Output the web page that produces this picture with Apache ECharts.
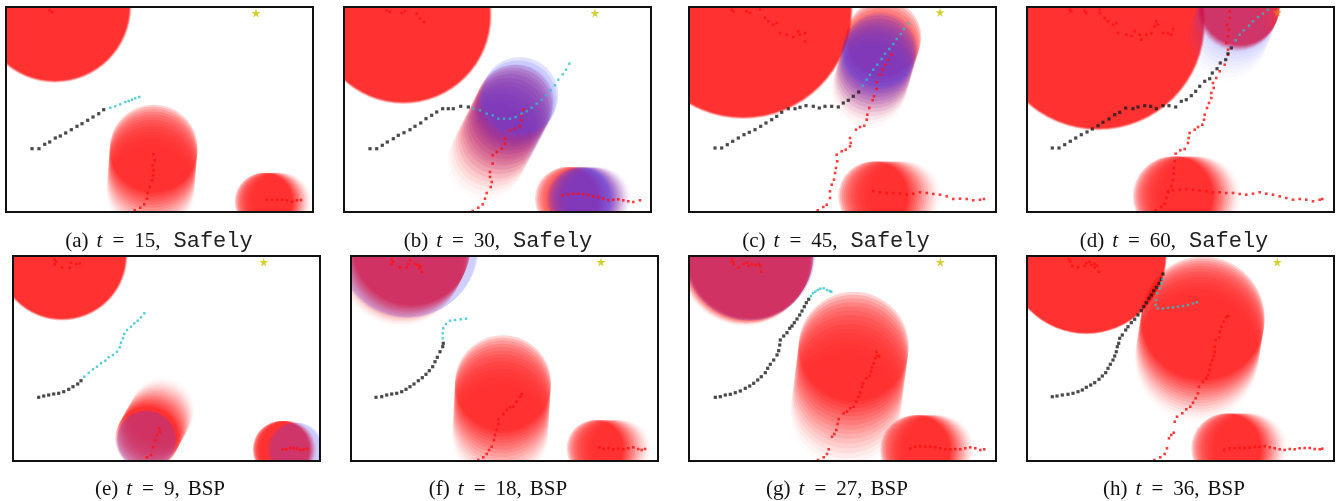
<!DOCTYPE html>
<html><head><meta charset="utf-8">
<script src="https://cdn.jsdelivr.net/npm/echarts@6.0.0/dist/echarts.min.js"></script>
<style>html,body{margin:0;padding:0;background:#fff}#c{width:1340px;height:501px}</style>
</head><body><div id="c"></div>
<script>
// ---- data (panel order a..h), units: scene coordinates, y grows downward ----
const panelLabels = ['(a)','(b)','(c)','(d)','(e)','(f)','(g)','(h)'];
const steps = [15,30,45,60,9,18,27,36];
const methods = ['Safely','Safely','Safely','Safely','BSP','BSP','BSP','BSP'];
const goals = [[250,6],[251,6],[251,5.3],[250.3,5.3],[250.7,6],[250,6],[251.3,6],[250.3,6]];
const goalReached = [false,false,false,true,false,false,false,false];

const robotPast = [
 [[26,141.7],[33,141.7],[38.7,137.3],[43.7,135],[49.3,131],[54.3,129],[59.7,126],[65.3,122.7],[71,119.3],[76,116.7],[81.7,113.3],[87,110],[92.7,106.7],[97.7,102.7]],
 [[26,141.7],[32.7,141.7],[38.3,138.3],[43.3,135],[49.3,131.7],[54.3,128.3],[60,125.7],[66,122.7],[71,119.3],[76.7,116],[82,111.7],[87.7,108.3],[92.7,105],[98.7,101.7],[104.3,101.7],[109.3,101.7],[116.7,99.3],[124.3,100]],
 [[26,141],[32.7,141],[38.3,137.7],[43.7,134.3],[49.3,131],[55,127.7],[60.3,125.3],[66,122.7],[71.7,119.3],[77,116],[82.7,112.7],[87.7,109.3],[92.7,105.3],[99.3,101.7],[106,101.7],[111,100.3],[117,98.7],[124.3,99.3],[130.3,101],[136,99.3],[142.7,99.3],[149.3,100],[154.3,96],[159.3,93.3],[164.3,89.3],[169.7,85]],
 [[25.3,141],[32,141],[37.7,137.7],[43.3,134.3],[48.7,131],[54.3,127.7],[60,125],[65.3,122],[71,118.7],[76,115.3],[82,112],[87.7,107.7],[92.7,105.3],[98.7,101],[106,101.7],[111,100],[117.7,98.7],[123.7,99.3],[129.3,101.7],[136,98.7],[142,98.7],[148.7,100],[154.3,94.3],[159.3,92.7],[164.3,88.7],[168.7,84.3],[172.7,79.3],[177.7,74.3],[182.7,71.7],[185.3,66],[190,61.7],[193.3,56],[198.7,52.7],[201,46.7],[204.3,41]],
 [[25.7,141.3],[30.7,140],[35.7,139],[40.7,138],[45.7,137.3],[50.7,135.7],[55.7,133.3],[60,130.7],[64.7,128],[68,124.7]],
 [[25,141.3],[30.7,140.7],[35.7,139],[40.7,138],[45.7,137.3],[50.7,135.7],[55,133.3],[59,130.7],[63,128],[67.3,124.7],[71.3,121.7],[75,118.3],[78.3,114.7],[81.7,110.7],[84,105.7],[86.3,101.3],[89,95.7],[91.7,90.7],[92.3,87.3]],
 [[26.3,141.3],[31.3,140.7],[36.3,139],[41.3,138.3],[46.3,136.7],[51.3,135],[56.3,132.3],[60.7,130],[64.7,127.3],[68.7,124],[72.3,120.7],[76.3,116.7],[78.7,112.3],[81.3,108.3],[84.7,104],[88,99],[89.7,94.7],[90.7,89],[91.3,84],[94.7,80],[98,76.7],[100.7,72.3],[103,70],[105.3,66.7],[108,63],[110.7,59],[113,55],[115.3,50.7],[117.3,46.7],[119.7,43.3]],
 [[25.3,140.7],[30,140],[35.3,139],[41,138.3],[46,137.3],[51,135.7],[55.3,134],[59.3,131.3],[63.7,129],[67.7,126.7],[72,123.3],[75.3,120],[78.7,116.7],[81,112.3],[83.3,108.3],[86,104],[87.7,100],[89.3,95.7],[90.3,90.7],[91.7,87.3],[92.7,82.3],[95.3,79],[98.7,74],[101,70.7],[104.3,66.7],[107.7,63.3],[111,59],[114.3,54.7],[116.7,50.7],[119.3,46.7],[122,42.3],[124.3,39],[126.7,34.7],[129.3,31.3],[132,27.3],[134.3,23.3],[136,18]]
];

const robotPlan = [
 [[104.3,100.7],[109.3,99.3],[114.3,97.3],[119.3,95],[122.7,94],[126,92.7],[129.3,91.3],[133.3,90]],
 [[129.3,101.7],[136,103.3],[142.7,106.7],[148.7,108.3],[154.3,111.7],[160,111.7],[166,111.7],[171.7,110],[177.7,106.7],[182.7,104.3],[187.7,100.7],[192.7,96.7],[197.7,92.7],[202,88.3],[206.7,83.3],[211,78.3],[214.3,72.7],[218.7,67.3],[222,62.7],[225.3,56.7]],
 [[173.7,78.7],[177.7,72.7],[181,67.7],[184.3,62.7],[188.3,57.7],[192.7,52],[196,46.7],[200.3,42],[204.3,37],[207.7,32],[211.7,27],[215,22],[219.3,16.7]],
 [[208.7,33.3],[212.7,27.7],[216.7,23.3],[222,18.7],[226,14.3],[231,10],[236,6.7],[241,2.7]],
 [[71.3,120.7],[75.7,116.7],[80,113.3],[84,110.7],[88,107.3],[92.3,104.7],[95.7,101.3],[100,99],[104,95.7],[106.7,91.3],[108,86.7],[110,82.3],[111.3,78],[114,74],[118,70.7],[121.3,67.3],[124.7,64.7],[128,61.3],[131.3,57.3]],
 [[91.7,82.3],[91.7,77.3],[92.3,72.3],[95,68],[99,64.7],[104,64],[109.7,63.3],[115,62.7]],
 [[122,40],[124,37.3],[126.3,35.7],[128.7,34],[131.3,32.7],[134.7,32.3],[138,34],[140.7,35],[142.3,35.7]],
 [[135.3,23.3],[134.3,27.3],[132.7,32.3],[130,37.3],[129.3,44],[128.7,49],[131,52.3],[136,52.7],[141,51.7],[146,51.3],[151,50.7],[156,50],[161,49],[166,47.3],[170,46.3]]
];

const pedTracks = [
 [[[43.7,3.3],[46,5]],
  [[128.7,203.3],[134.3,200.7],[138.3,197.3],[141,191.7],[141.7,186],[143.7,180],[146,173.3],[147,168.3],[147.7,163.3],[146.7,158.3],[148.7,153.3],[147.7,147.3]],
  [[261,192.7],[266,192.7],[271,192.7],[276,192.7],[281,193.3],[286,194.7],[291,193.3],[295,193]]],
 [[[42.7,3.3],[46,5],[57.7,6],[61,4.3],[72.7,6.7],[76,11.7],[80,15]],
  [[128.7,204],[134.3,200.7],[138.7,197.3],[141,191.7],[142.7,186],[146.7,180],[147.7,175],[146,170],[146,165],[148.7,156.7],[148.7,148.3],[152.7,145],[157.7,141.7],[161,136.7],[161,131.7],[166,123.3],[171,121.7],[176,119.3],[177.7,113.3],[177.7,108.3],[179.3,102.7]],
  [[218.7,188.3],[224.3,187.3],[229.3,186.7],[234.3,186.7],[239.3,187.3],[244.3,188.3],[249.3,189.3],[254.3,190],[259.3,191.7],[264.3,193.3],[269.3,192.7],[274.3,192.3],[279.3,193.3],[284.3,194.3],[289.3,195],[296,193.3]]],
 [[[42.7,2.7],[44.3,4.3],[57.7,4.3],[61,6],[71,2.7],[76,11],[79.3,14.3],[84.3,17.7],[87.7,16],[91,26],[97.7,27.7],[104.3,30],[109.3,24.3],[111,27.7],[116,26],[116,34.3]],
  [[128.7,203.3],[134.3,200],[137.7,197.7],[141,191],[141,184.3],[142.7,177.7],[145,172.7],[146,166],[147,161],[148.3,154.3],[147.7,147.7],[152.7,144.3],[156.7,142.7],[161,139.3],[161.7,136],[161,131],[167,122.7],[171,120],[175.3,118.7],[177.7,112.7],[178.3,107.7],[180.3,101],[183.7,93.3],[185,89.3],[187.7,82],[187.7,75.3],[191,67.7],[193.7,62.7],[196,57.7],[199.3,52.7],[202.7,47.7]],
  [[184.3,184.3],[191,185.3],[197.7,186],[204.3,186],[211,186.7],[217.7,187.7],[224.3,186.7],[231,185.3],[237.7,186],[244.3,187],[251,187.7],[257.7,189.3],[264.3,192],[271,191.7],[277.7,192],[284.3,193.3],[291,192.7],[295,192]]],
 [[[42.7,2.7],[44.3,4.3],[57.7,4.3],[59.3,6],[72.7,2.7],[72.7,6],[77.7,11],[81,14.3],[86,17.7],[89.3,16],[91,26],[99.3,27.7],[104.3,29.3],[107.7,24.3],[112.7,27.7],[114.3,32.7],[119.3,27.7],[124.3,26],[127.7,19.3],[129.3,14.3],[131,17.7],[136,26],[141,26],[146,22],[144.3,27.7]],
  [[128.7,203.3],[134.3,200],[137.7,196.7],[139.3,191],[141,185.3],[144.3,179.3],[146,173.3],[146.7,166.7],[146.7,161],[147.7,154.3],[148.7,146.7],[153.3,143.3],[157.7,142],[161,136],[161.7,131],[162.7,126],[167.7,122.7],[171,120],[175.3,117.7],[177,112.7],[177.7,107.7],[180,101],[182,96],[184.3,91],[184.3,86],[186.7,81],[186,76],[189.3,71],[192.7,64.3],[197.7,57.7],[201,47.7],[201,42.7],[199.3,36],[201,29.3],[202,22.7],[200,17.7],[202.7,11],[202.7,4.3]],
  [[141,184.3],[146,183.3],[152.7,182.7],[159.3,182],[166,182.7],[172.7,183.3],[179.3,184.3],[186,185.3],[192.7,185.3],[199.3,186],[206,186],[212.7,187],[219.3,187.7],[226,186.7],[232.7,185.3],[239.3,186.7],[246,187.7],[252.7,189.3],[259.3,191],[266,192.7],[272.7,192],[279.3,192.7],[286,194.3],[292.7,192.7],[295.3,192]]],
 [[[41.7,3.3],[43.3,5.7],[41.7,8.3],[49,11.3],[56.7,11.7],[58,6.7],[63.3,8],[66.7,7.3]],
  [[134,201.3],[138,199],[140,191.3],[142.3,184],[144,179],[146.7,175.7],[146,172.3]],
  [[270,193.3],[273.3,193.3],[277.3,192],[280.7,192],[284,192.7],[287.3,194],[290.7,193.3],[294,192.7]]],
 [[[40.7,3.3],[42.3,5.7],[40.7,8],[49,11.3],[55.7,11.3],[57.3,8],[59,4],[64,8],[66.3,9],[69,10],[70.7,15.7],[68.3,12.3]],
  [[127.3,204],[132.3,201.3],[135.7,198],[138,194],[140.7,190.7],[143,184],[144,179],[145.7,174],[147.3,168],[147.3,163.3],[152.3,158],[155.7,154],[159,151.3],[162.3,150.7],[165.7,145.7],[169,140.7],[170.7,138]],
  [[248.3,191.3],[252.3,192.7],[257.3,192.3],[262.3,193.3],[267.3,192.7],[272.3,193.3],[277.3,192.3],[282.3,191.3],[287.3,193],[290.7,194],[294,193]]],
 [[[43,3.3],[44,5.7],[44.7,8.3],[49.7,11.3],[54.7,8],[58,6.7],[59.7,10],[63,8],[66.3,9],[69.7,8],[71.3,10],[72,15.7]],
  [[129,204],[134.7,201.3],[138,198],[139.7,193.3],[143,180.7],[145.3,178],[147.3,174],[148.7,168],[149.7,163.3],[154.7,157.3],[158,155.7],[161.3,152.3],[164.7,150.7],[167.3,145.7],[169.7,140.7],[171.3,136.7],[173,130.7],[174,127.3],[177.3,122.3],[180.7,120],[182,115.7],[183,111.3],[184.7,107.3],[186.3,102.3],[188,100],[190,100],[187.3,95.7]],
  [[221.3,192.3],[226.3,190.7],[231.3,190],[236.3,190.7],[241.3,190.7],[246.3,191.3],[251.3,192.3],[256.3,193.3],[261.3,193.3],[266.3,193],[271.3,193.3],[276.3,192.3],[281.3,191.3],[286.3,192.3],[291.3,194],[295.3,193.3]]],
 [[[42,3.3],[43.3,5.7],[45.3,10],[51,11.3],[57.7,10],[59.3,7.3],[62.7,5.7],[64.3,9],[67.7,8],[70,10],[71.7,15.7],[67.7,11.3]],
  [[127.3,204],[133.3,201.3],[137.7,198],[140,192.3],[142,182.3],[144.3,179],[146.7,176.7],[147.7,165.7],[150,160.7],[155.3,157.3],[159.3,153.3],[163.3,150.7],[166,146.7],[168.7,142.3],[171,137.3],[172,130.7],[176,125.7],[179.3,122.3],[181,119],[182.7,114],[183.7,109],[185.3,104],[186.7,100],[187.7,95.7],[187.7,90.7],[188.7,84],[192,81.3],[192.7,75.7],[194.3,70.7],[196.7,65.7],[199.3,61.3],[201,60]],
  [[197.3,194],[202.7,192.3],[207.7,192.3],[212.7,192],[217.7,192],[222.7,191.7],[227.7,190.7],[232.7,190.7],[237.7,190],[242.7,191.3],[247.7,192.3],[252.7,193.3],[257.7,194],[262.7,193],[267.7,193.3],[272.7,192.3],[277.7,192],[282.7,192],[287.7,193],[292.7,193.3],[295.3,192.7]]]
];

// obstacle occupancy trails: [kind, xNow, yNow, rNow, xFar, yFar, rFar]
const obstacles = [
 [['red',49,-0.7,74,49,-0.7,77],['red',147.7,141.7,44,144.3,185,44],['red',257.7,194.7,29,277,194.7,29]],
 [['red',59.3,8.6,86,59.3,8.6,89],['red',171,96,38.3,141,155,38.3],['blue',176,88.3,38.3,150,140,38.3],['red',222.7,191.7,31.7,255,192,31.7],['blue',235,192,31.7,257,192,31.7]],
 [['red',54.3,2.6,107,54.3,2.6,110],['red',195,30,37.3,179.3,84.3,37.3],['blue',191,42.7,36.7,181,79.3,36.7],['red',184.3,189.3,35,217.7,189.3,35]],
 [['red',71,16,105,71,16,108],['red',213.3,-2.3,40,210,5,40],['blueSoft',212,2,40,199.3,34.3,40],['red',146,189.3,40,174.3,189.3,40]],
 [['red',49,-1,63.3,49,-1,66],['red',134,182.3,31.7,150,153.3,31.7],['blueLight',133.3,184,29.3,134,184,29.3],['red',268,193.3,28.3,276,193.3,28.3],['blueSoft',281,193.3,26.7,286,193.3,26.7]],
 [['red',60.7,-10.3,59.3,49,8,62],['blueLight',57.3,-10,70.7,55,-7,70],['red',152,127.3,48,149,180.7,48],['red',244,192.3,28.3,272.3,192.3,28.3]],
 [['red',61.3,-1,63.3,55,5,65],['blueLight',61,-1,65,60,0,65],['red',164.7,90.7,55,156.3,157.3,55],['red',226.3,194,35,251.3,194,35]],
 [['red',59.3,-2.4,79,59.3,-2.4,81],['red',176,62.3,61.7,169.3,104,61.7],['red',199.3,192.3,35,226,192.3,35]]
];

// ---- layout & style ----
const W = 307, H = 205;
const panelLeft = [6,344,689,1027,13,351,689,1027];
const panelTop = [7,7,7,7,256,256,256,256];
const captionX = [159,498,836,1174,160,498,837,1174];
const captionY = [241,241,241,241,489,489,489,489];
const kindStyle = {
  red:{rgb:'255,0,0', n:16, a0:0.17, a1:0.015, k:0.8},
  blue:{rgb:'60,60,255', n:12, a0:0.15, a1:0.01, k:0.9},
  blueSoft:{rgb:'70,70,255', n:10, a0:0.045, a1:0.012, k:0.8},
  blueLight:{rgb:'60,60,255', n:6, a0:0.07, a1:0.02, k:1}
};
const STAR = 'path://M50,0 L61,35 L98,35 L68,57 L79,91 L50,70 L21,91 L32,57 L2,35 L39,35 Z';

function obstacleRenderer(p){
  return function(params, api){
    const ob = obstacles[p][params.dataIndex];
    const st = kindStyle[ob[0]];
    const p0 = api.coord([ob[1], ob[2]]);
    const p1 = api.coord([ob[4], ob[5]]);
    const s = api.size([1,1])[0];
    const children = [];
    for (let k = st.n - 1; k >= 0; k--) {
      const u = k / (st.n - 1);
      const t = Math.pow(u, 1.15);
      const a = st.a1 + (st.a0 - st.a1) * Math.pow(1 - u, st.k);
      children.push({type:'circle', silent:true,
        shape:{cx:p0[0] + (p1[0]-p0[0])*t, cy:p0[1] + (p1[1]-p0[1])*t, r:(ob[3] + (ob[6]-ob[3])*u)*s},
        style:{fill:'rgba(' + st.rgb + ',' + a.toFixed(3) + ')'}});
    }
    return {type:'group', children};
  };
}

const grid = [], xAxis = [], yAxis = [], series = [], graphic = [];
for (let p = 0; p < 8; p++) {
  grid.push({left:panelLeft[p], top:panelTop[p], width:W, height:H, show:true, z:20,
    backgroundColor:'transparent', borderColor:'#111', borderWidth:2});
  xAxis.push({gridIndex:p, type:'value', min:0, max:W, show:false});
  yAxis.push({gridIndex:p, type:'value', min:0, max:H, inverse:true, show:false});
  series.push({type:'custom', xAxisIndex:p, yAxisIndex:p, clip:true, z:1, silent:true,
    renderItem:obstacleRenderer(p),
    encode:{x:[0,2], y:[1,3]},
    data:obstacles[p].map(o => [o[1], o[2], o[4], o[5]])});
  series.push({type:'scatter', xAxisIndex:p, yAxisIndex:p, z:3, symbol:'rect', symbolSize:2.6,
    itemStyle:{color:'#ff1010'}, data:[].concat(...pedTracks[p])});
  series.push({type:'scatter', xAxisIndex:p, yAxisIndex:p, z:4, symbol:'rect', symbolSize:3.2,
    itemStyle:{color:'#1c1c1c'}, data:robotPast[p]});
  series.push({type:'scatter', xAxisIndex:p, yAxisIndex:p, z:5, symbol:'rect', symbolSize:2.4,
    itemStyle:{color:'#2bc0c8'}, data:robotPlan[p]});
  series.push({type:'scatter', xAxisIndex:p, yAxisIndex:p, z:6, symbol:STAR, symbolSize:9,
    itemStyle:{color: goalReached[p] ? '#e8741e' : '#c9c400'}, data:[goals[p]]});
  const methodTok = methods[p] === 'Safely' ? '{m|' + methods[p] + '}' : '{b|' + methods[p] + '}';
  graphic.push({type:'text', x:captionX[p], y:captionY[p], silent:true,
    style:{text:'{n|' + panelLabels[p] + '}{i|t}{e|=}{n|' + steps[p] + ',}' + methodTok,
      align:'center', verticalAlign:'middle',
      rich:{
        n:{fontFamily:'Liberation Serif', fontSize:21, fill:'#111'},
        i:{fontFamily:'Liberation Serif', fontStyle:'italic', fontSize:21, fill:'#111', padding:[0,0,0,8]},
        e:{fontFamily:'Liberation Serif', fontSize:21, fill:'#111', padding:[0,10,0,10]},
        m:{fontFamily:'Liberation Mono', fontSize:22, fill:'#222', padding:[0,0,0,13]},
        b:{fontFamily:'Liberation Serif', fontSize:21, fill:'#111', padding:[0,0,0,8]}
      }}});
}

const chart = echarts.init(document.getElementById('c'), null, {renderer:'canvas'});
chart.setOption({animation:false, grid, xAxis, yAxis, series, graphic});
</script></body></html>
